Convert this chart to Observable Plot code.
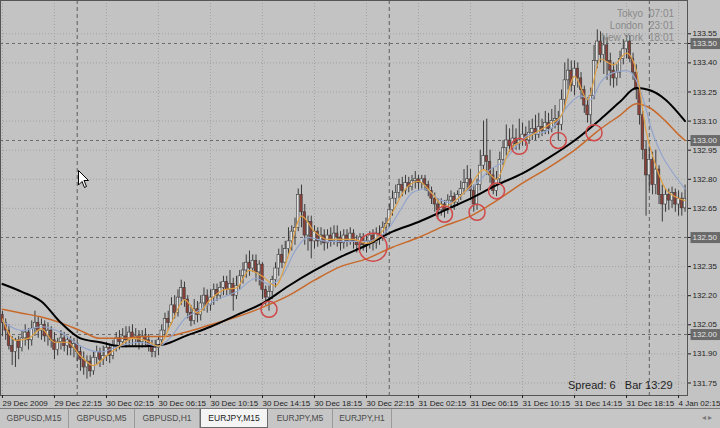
<!DOCTYPE html>
<html><head><meta charset="utf-8">
<script src="https://cdn.jsdelivr.net/npm/d3@7"></script>
<script src="https://cdn.jsdelivr.net/npm/@observablehq/plot@0.6"></script>
<style>
body{margin:0;background:#c3c3c3;}
#wrap{position:relative;width:720px;height:428px;background:#c3c3c3;overflow:hidden;font-family:"Liberation Sans",Arial,sans-serif;}
#wrap svg.chart{display:block;}
.ov{position:absolute;white-space:pre;}
#tabs{position:absolute;left:0;top:408px;width:720px;height:20px;background:#c6c6c6;border-top:1px solid #7a7a7a;box-sizing:border-box;display:flex;font-size:8.5px;color:#4a4a4a;}
#tabs div.t{box-sizing:border-box;height:19px;line-height:18px;text-align:center;border-right:1px solid #9a9a9a;}
#tabs div.on{background:#f4f4f4;color:#202020;border:1px solid #6a6a6a;border-top:none;}
</style></head>
<body>
<div id="wrap"></div>
<script>
// ---- data (EURJPY, M15) ----
const timeLabels = ["29 Dec 2009","29 Dec 22:15","30 Dec 02:15","30 Dec 06:15","30 Dec 10:15","30 Dec 14:15","30 Dec 18:15","30 Dec 22:15","31 Dec 02:15","31 Dec 06:15","31 Dec 10:15","31 Dec 14:15","31 Dec 18:15","4 Jan 02:15"];
const labelBars = [0,16,32,48,64,80,96,112,128,144,160,176,192,208];
const separatorBars = [23,119,199];
const yTickVals = [133.55,133.40,133.25,133.10,132.95,132.80,132.65,132.35,132.20,132.05,131.90,131.75];
const levels = [133.50,133.00,132.50,132.00];

const opens = [
132.10,132.06,132.02,131.94,131.91,131.97,131.93,131.98,132.01,131.97,
132.03,132.06,132.02,132.05,131.99,132.02,131.97,131.92,131.96,131.98,
131.94,131.97,131.93,131.95,131.91,131.87,131.83,131.86,131.81,131.88,
131.91,131.87,131.89,131.93,131.89,131.94,131.98,131.96,131.99,131.97,
132.01,131.98,131.99,131.96,131.99,131.97,131.94,131.91,131.93,131.97,
132.02,132.08,132.06,132.15,132.11,132.19,132.24,132.18,132.11,132.07,
132.13,132.10,132.16,132.20,132.15,132.19,132.23,132.20,132.24,132.27,
132.23,132.26,132.20,132.25,132.30,132.33,132.37,132.34,132.38,132.32,
132.36,132.23,132.19,132.22,132.28,132.34,132.41,132.37,132.44,132.48,
132.53,132.55,132.72,132.63,132.51,132.58,132.48,132.53,132.48,132.51,
132.47,132.51,132.48,132.52,132.50,132.47,132.51,132.48,132.52,132.48,
132.46,132.50,132.46,132.48,132.51,132.47,132.52,132.51,132.55,132.57,
132.64,132.70,132.73,132.77,132.74,132.78,132.76,132.79,132.80,132.78,
132.80,132.77,132.74,132.70,132.67,132.64,132.67,132.64,132.69,132.71,
132.68,132.72,132.75,132.78,132.80,132.74,132.67,132.77,132.87,132.92,
132.89,132.82,132.74,132.80,132.90,132.96,133.00,132.97,133.01,132.98,
133.00,133.03,133.00,133.04,133.06,133.03,133.07,133.05,133.09,133.06,
133.10,133.11,133.08,133.21,133.31,133.36,133.28,133.37,133.32,133.26,
133.18,133.13,133.23,133.41,133.51,133.44,133.49,133.41,133.36,133.32,
133.35,133.42,133.47,133.51,133.42,133.35,133.26,133.13,132.95,132.82,
132.90,132.77,132.85,132.72,132.67,132.72,132.69,132.73,132.67,132.70,
132.65];
const highs = [
132.12,132.08,132.05,131.99,131.98,131.99,132.02,132.05,132.03,132.07,
132.12,132.09,132.08,132.07,132.06,132.04,132.01,131.98,132.02,132.01,
131.99,131.99,131.98,131.97,131.94,131.91,131.89,131.89,131.91,131.94,
131.93,131.94,131.96,131.95,131.97,132.01,132.02,132.03,132.04,132.04,
132.05,132.03,132.02,132.02,132.03,132.00,131.97,131.97,131.99,132.05,
132.11,132.12,132.19,132.20,132.23,132.28,132.27,132.20,132.15,132.18,
132.17,132.20,132.24,132.23,132.23,132.26,132.26,132.27,132.30,132.30,
132.33,132.29,132.30,132.33,132.37,132.41,132.43,132.41,132.41,132.38,
132.37,132.25,132.25,132.30,132.37,132.44,132.46,132.48,132.55,132.56,
132.60,132.75,132.77,132.67,132.61,132.61,132.56,132.55,132.55,132.54,
132.54,132.55,132.56,132.56,132.53,132.54,132.54,132.55,132.54,132.51,
132.52,132.52,132.51,132.53,132.54,132.55,132.56,132.58,132.60,132.67,
132.74,132.77,132.80,132.81,132.82,132.81,132.82,132.84,132.82,132.82,
132.82,132.79,132.76,132.73,132.70,132.70,132.69,132.72,132.74,132.73,
132.74,132.79,132.85,132.87,132.85,132.77,132.80,132.95,133.10,133.11,
132.95,132.86,132.84,132.94,133.00,133.08,133.06,133.08,133.06,133.11,
133.09,133.07,133.10,133.11,133.13,133.14,133.11,133.15,133.14,133.16,
133.18,133.15,133.26,133.40,133.42,133.41,133.41,133.40,133.35,133.28,
133.22,133.27,133.49,133.57,133.56,133.54,133.53,133.45,133.40,133.39,
133.46,133.52,133.54,133.54,133.45,133.39,133.28,133.15,133.00,132.97,
132.94,132.95,132.87,132.77,132.75,132.75,132.76,132.75,132.74,132.73,
132.77];
const lows = [
131.99,131.97,131.92,131.84,131.83,131.87,131.91,131.94,131.92,131.94,
131.99,131.98,131.97,131.96,131.94,131.93,131.87,131.89,131.92,131.91,
131.89,131.89,131.88,131.86,131.81,131.79,131.77,131.78,131.79,131.84,
131.83,131.84,131.86,131.85,131.87,131.91,131.92,131.93,131.93,131.94,
131.94,131.94,131.92,131.93,131.94,131.91,131.88,131.88,131.89,131.94,
131.99,132.02,132.05,132.08,132.09,132.15,132.14,132.08,132.04,132.05,
132.06,132.07,132.12,132.11,132.12,132.15,132.17,132.18,132.20,132.20,
132.20,132.12,132.18,132.23,132.26,132.29,132.30,132.32,132.27,132.25,
132.18,132.15,132.12,132.18,132.24,132.30,132.34,132.36,132.41,132.43,
132.46,132.53,132.55,132.46,132.43,132.39,132.44,132.45,132.46,132.43,
132.44,132.45,132.46,132.45,132.43,132.44,132.45,132.46,132.44,132.42,
132.43,132.43,132.42,132.44,132.43,132.44,132.46,132.48,132.51,132.55,
132.61,132.67,132.70,132.71,132.72,132.73,132.74,132.75,132.74,132.75,
132.74,132.71,132.67,132.63,132.60,132.61,132.60,132.62,132.65,132.64,
132.66,132.69,132.72,132.74,132.69,132.63,132.64,132.74,132.85,132.82,
132.78,132.72,132.71,132.77,132.87,132.92,132.94,132.95,132.95,132.95,
132.97,132.97,132.98,133.00,133.00,133.01,133.02,133.03,133.03,133.04,
133.06,133.00,133.05,133.16,133.26,133.25,133.23,133.27,133.21,133.14,
133.09,133.08,133.21,133.37,133.40,133.34,133.31,133.28,133.27,133.28,
133.32,133.39,133.42,133.40,133.31,133.21,133.08,132.90,132.61,132.74,
132.72,132.72,132.67,132.58,132.63,132.64,132.65,132.63,132.61,132.61,
132.63];
const closes = [
132.06,132.02,131.94,131.91,131.97,131.93,131.98,132.01,131.97,132.03,
132.06,132.02,132.05,131.99,132.02,131.97,131.92,131.96,131.98,131.94,
131.97,131.93,131.95,131.91,131.87,131.83,131.86,131.81,131.88,131.91,
131.87,131.89,131.93,131.89,131.94,131.98,131.96,131.99,131.97,132.01,
131.98,131.99,131.96,131.99,131.97,131.94,131.91,131.93,131.97,132.02,
132.08,132.06,132.15,132.11,132.19,132.24,132.18,132.11,132.07,132.13,
132.10,132.16,132.20,132.15,132.19,132.23,132.20,132.24,132.27,132.23,
132.26,132.20,132.25,132.30,132.33,132.37,132.34,132.38,132.32,132.36,
132.23,132.19,132.22,132.28,132.34,132.41,132.37,132.44,132.48,132.53,
132.55,132.72,132.63,132.51,132.58,132.48,132.53,132.48,132.51,132.47,
132.51,132.48,132.52,132.50,132.47,132.51,132.48,132.52,132.48,132.46,
132.50,132.46,132.48,132.51,132.47,132.52,132.51,132.55,132.57,132.64,
132.70,132.73,132.77,132.74,132.78,132.76,132.79,132.80,132.78,132.80,
132.77,132.74,132.70,132.67,132.64,132.67,132.64,132.69,132.71,132.68,
132.72,132.75,132.78,132.80,132.74,132.67,132.77,132.87,132.92,132.89,
132.82,132.74,132.80,132.90,132.96,133.00,132.97,133.01,132.98,133.00,
133.03,133.00,133.04,133.06,133.03,133.07,133.05,133.09,133.06,133.10,
133.11,133.08,133.21,133.31,133.36,133.28,133.37,133.32,133.26,133.18,
133.13,133.23,133.41,133.51,133.44,133.49,133.41,133.36,133.32,133.35,
133.42,133.47,133.51,133.42,133.35,133.26,133.13,132.95,132.82,132.90,
132.77,132.85,132.72,132.67,132.72,132.69,132.73,132.67,132.70,132.65,
132.70];

const slowIdx = [0,6,12,18,24,30,36,44,50,56,64,72,80,88,96,104,112,120,128,136,144,152,160,168,176,184,190,195,199,204,208,210];
const blackMA = [132.26,132.22,132.17,132.06,131.98,131.96,131.94,131.94,131.95,131.99,132.04,132.10,132.16,132.25,132.33,132.40,132.46,132.53,132.58,132.64,132.70,132.77,132.83,132.91,133.00,133.11,133.20,133.27,133.26,133.21,133.14,133.10];
const orangeMA = [132.13,132.11,132.09,132.06,132.02,131.98,131.98,131.99,131.99,132.01,132.05,132.09,132.14,132.20,132.28,132.35,132.39,132.45,132.50,132.56,132.61,132.69,132.78,132.86,132.95,133.06,133.13,133.19,133.17,133.10,133.03,133.00];
const midIdx = [0,6,12,18,24,30,36,42,48,52,56,60,66,72,78,82,86,90,94,100,106,112,118,122,126,130,134,138,142,146,150,154,158,162,166,170,174,178,181,184,188,192,195,197,200,203,206,210];
const midMA = [132.07,132.02,132.04,132.01,131.94,131.91,131.94,131.96,131.94,131.99,132.08,132.12,132.18,132.22,132.29,132.26,132.30,132.43,132.50,132.48,132.48,132.48,132.53,132.63,132.73,132.75,132.70,132.68,132.73,132.78,132.85,132.89,132.97,133.03,133.04,133.08,133.18,133.23,133.21,133.30,133.35,133.36,133.31,133.22,133.04,132.92,132.84,132.75];
const fastIdx = [0,4,8,12,16,20,24,28,32,36,40,44,48,52,56,60,64,68,72,76,80,84,88,92,96,100,104,108,112,116,120,124,128,132,136,140,144,148,152,156,160,164,168,172,176,180,184,188,192,195,198,201,204,207,210];
const fastMA = [132.08,131.97,131.98,132.03,131.96,131.96,131.89,131.84,131.89,131.94,
131.98,131.97,131.94,132.06,132.18,132.11,132.18,132.23,132.24,132.33,
132.30,132.25,132.41,132.61,132.53,132.49,132.49,132.49,132.47,132.51,
132.63,132.75,132.79,132.73,132.66,132.70,132.77,132.85,132.80,132.95,
133.00,133.04,133.08,133.13,133.33,133.21,133.42,133.39,133.45,
133.36,133.05,132.87,132.75,132.71,132.69];
// circled touches: bar and the price at the circle's centre
const circledBars = [82,136,146,152,159,171,182];
const circledPrices = [132.13,132.62,132.63,132.74,132.97,133.00,133.04];
const bigCircledBars = [114];
const bigCircledPrices = [132.45];

// ---- build ----
const N = closes.length;
const bars = closes.map((c, i) => ({i, open: opens[i], high: highs[i], low: lows[i], close: c}));
const ser = (idx, vals) => idx.map((d, k) => ({i: d, v: vals[k]}));
const yBottom = 131.6855, yTop = 133.7216;
const font = '"Liberation Sans", Arial, sans-serif';

const chart = Plot.plot({
  width: 720, height: 408,
  marginLeft: 0, marginRight: 33, marginTop: 0, marginBottom: 13,
  style: {background: "#c3c3c3", color: "#1e1e1e", fontFamily: font, fontSize: "8px"},
  x: {domain: [-0.6, N - 0.25]},
  y: {domain: [yBottom, yTop]},
  marks: [
    Plot.ruleY(yTickVals, {stroke: "#a2a2a2", strokeDasharray: "1,2"}),
    Plot.ruleX(labelBars, {stroke: "#a2a2a2", strokeDasharray: "1,2"}),
    Plot.ruleX(separatorBars, {stroke: "#5e5e5e", strokeDasharray: "4,3"}),
    Plot.ruleY(levels, {stroke: "#6c6c6c", strokeDasharray: "3,3"}),
    Plot.ruleX(bars, {x: "i", y1: "low", y2: "high", stroke: "#3a3a3a", strokeWidth: 1}),
    Plot.rect(bars, {x1: d => d.i - 0.38, x2: d => d.i + 0.38, y1: "open", y2: "close",
      fill: d => d.close >= d.open ? "#e2e2e2" : "#8e4038", stroke: "#3a3a3a", strokeWidth: 0.6}),
    Plot.line(ser(slowIdx, orangeMA), {x: "i", y: "v", stroke: "#c8692a", strokeWidth: 1.5, curve: "monotone-x"}),
    Plot.line(ser(slowIdx, blackMA), {x: "i", y: "v", stroke: "#000000", strokeWidth: 2, curve: "monotone-x"}),
    Plot.line(ser(midIdx, midMA), {x: "i", y: "v", stroke: "#93a5cc", strokeWidth: 1.2, curve: "monotone-x"}),
    Plot.line(ser(fastIdx, fastMA), {x: "i", y: "v", stroke: "#e0a044", strokeWidth: 1.2, curve: "monotone-x"}),
    Plot.dot(circledBars, {x: d => d, y: (d, k) => circledPrices[k], r: 8, stroke: "#d04848", strokeWidth: 1.5, fill: "none"}),
    Plot.dot(bigCircledBars, {x: d => d, y: (d, k) => bigCircledPrices[k], r: 14, stroke: "#d04848", strokeWidth: 1.5, fill: "none"}),
    Plot.frame({stroke: "#555555"}),
    Plot.axisX(labelBars, {anchor: "bottom", tickSize: 3, tickPadding: 2, textAnchor: "start", fontSize: 8, label: null,
      tickFormat: d => timeLabels[labelBars.indexOf(d)]}),
    Plot.axisY(yTickVals, {anchor: "right", tickSize: 3, tickPadding: 2, fontSize: 8, label: null, tickFormat: d => d.toFixed(2)}),
    Plot.axisY(levels, {anchor: "right", tickSize: 3, tickPadding: 2, fontSize: 8, label: null, tickFormat: d => d.toFixed(2)})
  ]
});
chart.classList.add("chart");
const wrap = document.getElementById("wrap");
wrap.append(chart);

// highlight boxes behind level labels
const levelStr = new Set(levels.map(d => d.toFixed(2)));
d3.select(chart).selectAll("text").each(function() {
  if (!levelStr.has(this.textContent)) return;
  const bb = this.getBBox();
  const r = document.createElementNS("http://www.w3.org/2000/svg", "rect");
  r.setAttribute("x", bb.x - 2); r.setAttribute("y", bb.y - 1);
  r.setAttribute("width", bb.width + 5); r.setAttribute("height", bb.height + 2);
  r.setAttribute("fill", "#6a6a6a");
  const tr = this.getAttribute("transform"); if (tr) r.setAttribute("transform", tr);
  this.parentNode.insertBefore(r, this);
  this.setAttribute("fill", "#e4e4e4");
});

// overlays
function ov(text, css) { const d = document.createElement("div"); d.className = "ov"; d.textContent = text; d.style.cssText += css; wrap.append(d); return d; }
const sessions = [["Tokyo", "07:01"], ["London", "23:01"], ["New York", "18:01"]];
sessions.forEach(([n, t], k) => {
  ov(n, `left:543px;width:100px;text-align:right;top:${8 + 12 * k}px;font-size:10px;color:#8a8a8a;`);
  ov(t, `left:649px;top:${8 + 12 * k}px;font-size:10px;color:#8a8a8a;`);
});
ov("Spread: 6   Bar 13:29", "left:568px;top:379px;font-size:11px;color:#1e1e1e;");
// mouse pointer
const cur = document.createElement("div");
cur.className = "ov"; cur.style.cssText += "left:78px;top:170px;";
cur.innerHTML = '<svg width="12" height="19"><path d="M0.5,0.5 L0.5,15 L4,11.5 L6.5,17.5 L8.5,16.5 L6,10.5 L10.5,10.5 Z" fill="#ffffff" stroke="#000" stroke-width="1"/></svg>';
wrap.append(cur);

// tab bar
const tabNames = ["GBPUSD,M15","GBPUSD,M5","GBPUSD,H1","EURJPY,M15","EURJPY,M5","EURJPY,H1"];
const tabW = [69,66,65,68,65,59];
const tabs = document.createElement("div"); tabs.id = "tabs";
tabNames.forEach((n, k) => {
  const t = document.createElement("div"); t.className = "t" + (k === 3 ? " on" : "");
  t.style.width = tabW[k] + "px"; t.textContent = n; tabs.append(t);
});
const arr = document.createElement("div");
arr.style.cssText = "margin-left:auto;margin-right:8px;line-height:18px;color:#7a7a7a;font-size:8px;";
arr.textContent = "◂ ▸"; tabs.append(arr);
wrap.append(tabs);
</script>
</body></html>
